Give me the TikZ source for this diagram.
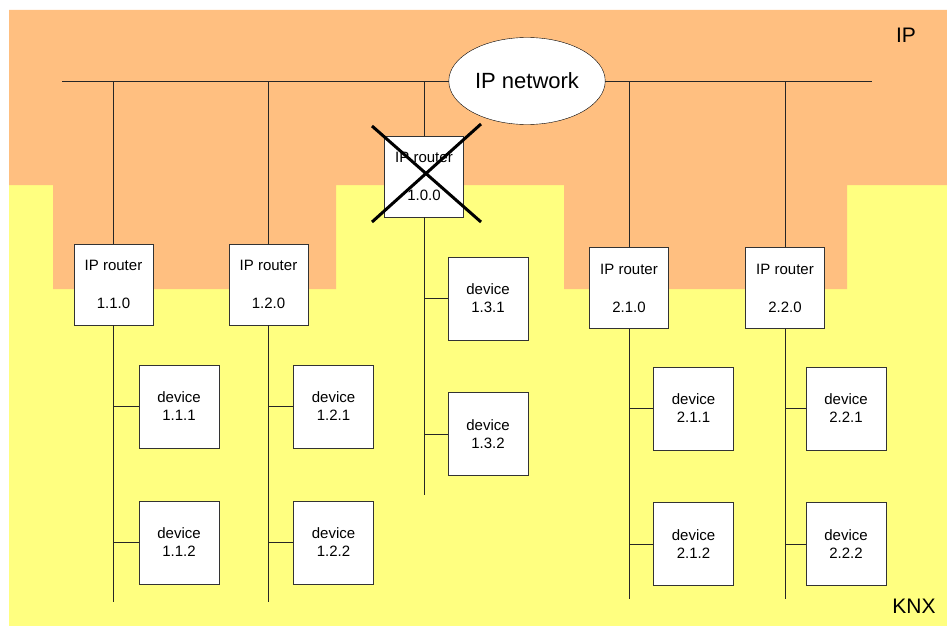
\documentclass[tikz,border=0pt]{standalone}
\usepackage{fontspec}
\setmainfont{Liberation Sans}
\usetikzlibrary{shapes.geometric}
\definecolor{ipzone}{RGB}{255,191,128}
\definecolor{knxzone}{RGB}{255,255,128}
\tikzset{
  router/.style={draw=black!80, fill=white, minimum width=79pt, minimum height=81pt, inner sep=0pt, align=center, font=\fontsize{15}{18}\selectfont},
  device/.style={router, minimum width=80pt, minimum height=83pt},
  line/.style={draw=black!85, line width=0.9pt},
  zonelabel/.style={font=\fontsize{21}{24}\selectfont}
}
\begin{document}
\begin{tikzpicture}[x=1pt,y=-1pt]
\useasboundingbox (0,0) rectangle (947,626);
\fill[knxzone] (9,185) rectangle (947,626);
\fill[ipzone] (9,10) rectangle (947,185) (53,185) rectangle (336,289) (564,185) rectangle (847,289);
\node[zonelabel] (ip) at (906,35) {IP}; \node[zonelabel] (knx) at (914,606) {KNX};
\coordinate (busL) at (62,81); \coordinate (busR) at (872,81);
\draw[line] (busL) -- (busR);
\node[draw, fill=white, ellipse, minimum width=154pt, minimum height=87pt, font=\fontsize{22}{26}\selectfont] (net) at (527,81) {IP network};
% routers and their lines
\foreach \r/\lbl/\x/\y/\e in {r110/1.1.0/113.5/284.5/602, r120/1.2.0/268.5/284.5/602, r100/1.0.0/424/176.5/495, r210/2.1.0/629/288/599, r220/2.2.0/785/288/599} {
  \node[router] (\r) at (\x,\y) {IP router\\[20pt]\lbl};
  \coordinate (e\r) at (\x,\e);
  \draw[line] (\r.north |- busL) -- (\r.north); \draw[line] (\r.south) -- (e\r);
}
% devices
\foreach \d/\lbl/\x/\y/\r in {d111/1.1.1/179/406.5/r110, d112/1.1.2/179/542.5/r110, d121/1.2.1/333.5/406.5/r120, d122/1.2.2/333.5/542.5/r120, d131/1.3.1/488/298.5/r100, d132/1.3.2/488/434/r100, d211/2.1.1/693.5/408.5/r210, d212/2.1.2/693.5/544/r210, d221/2.2.1/846/408.5/r220, d222/2.2.2/846/544/r220} {
  \node[device] (\d) at (\x,\y) {device\\\lbl};
  \draw[line] (\d.west) -- (\d.west -| \r);
}
\draw[line width=3pt] (372,126) -- (481,222) (372,222) -- (481,124);
\end{tikzpicture}
\end{document}
